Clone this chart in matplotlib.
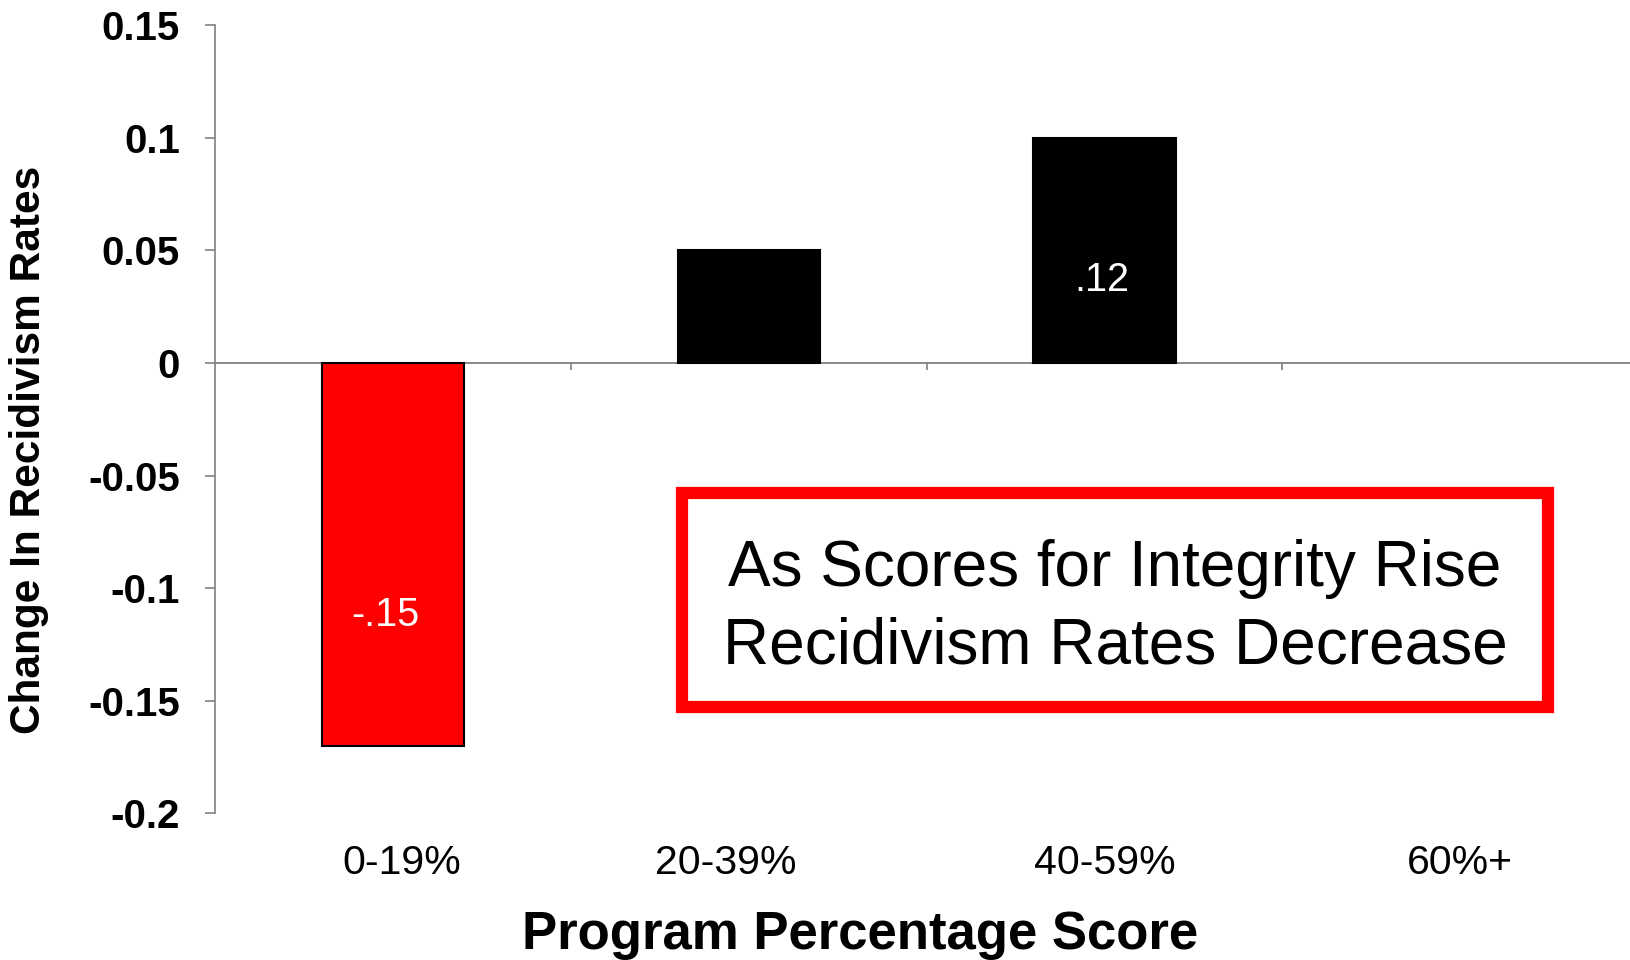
import matplotlib
matplotlib.use("Agg")
import matplotlib.pyplot as plt
from matplotlib.patches import Rectangle
import matplotlib.transforms as mtransforms

plt.rcParams['font.family'] = ['Liberation Sans', 'DejaVu Sans']

# ---- data ----
categories = ["0-19%", "20-39%", "40-59%", "60%+"]
values = [-0.17, 0.05, 0.10, 0.0]
bar_colors = ["#FF0000", "#000000", "#000000", "#000000"]
bar_labels = ["-.15", "", ".12", ""]
label_y = [-0.112, None, 0.037, None]
y_ticks = [-0.2, -0.15, -0.1, -0.05, 0, 0.05, 0.1, 0.15]
y_ticklabels = ["-0.2", "-0.15", "-0.1", "-0.05", "0", "0.05", "0.1", "0.15"]
x_title = "Program Percentage Score"
y_title = "Change In Recidivism Rates"
note = "As Scores for Integrity Rise\nRecidivism Rates Decrease"

# small horizontal nudges (pixels) of text, as placed in the original slide
cat_label_dx = [9, -23, 0, 0]
bar_label_dx = [-8, 0, -3, 0]

W, H = 1631, 960
fig = plt.figure(figsize=(W / 100, H / 100), dpi=100)
left, right = 215.3 / W, 1638 / W
top, bottom = 1 - 25 / H, 1 - 813.4 / H
ax = fig.add_axes([left, bottom, right - left, top - bottom])

xs = list(range(len(categories)))
bars_idx = [i for i, v in enumerate(values) if v != 0]
ax.bar([xs[i] for i in bars_idx], [values[i] for i in bars_idx], width=0.4,
       color=[bar_colors[i] for i in bars_idx], edgecolor="black", linewidth=1.5, zorder=3)

ax.set_xlim(-0.5, len(categories) - 0.5)
ax.set_ylim(-0.2, 0.15)

gray = "#808080"
for s in ["top", "right"]:
    ax.spines[s].set_visible(False)
ax.spines["bottom"].set_position(("data", 0))
ax.spines["bottom"].set_color(gray)
ax.spines["bottom"].set_linewidth(1.3)
ax.spines["left"].set_color(gray)
ax.spines["left"].set_linewidth(1.2)

ax.set_yticks(y_ticks)
ax.set_yticklabels(y_ticklabels, fontsize=29, fontweight="bold")
ax.tick_params(axis="y", direction="out", length=7.5, width=1.2, color=gray, pad=18)

ax.set_xticks([x + 0.5 for x in xs[:-1]])
ax.set_xticklabels([])
ax.tick_params(axis="x", direction="out", length=5, width=1.2, color=gray)

# category labels below the plot
trans = mtransforms.blended_transform_factory(ax.transData, fig.transFigure)
for x, c, dx in zip(xs, categories, cat_label_dx):
    t = trans + mtransforms.ScaledTranslation(dx / 100, 0, fig.dpi_scale_trans)
    ax.text(x, 1 - 874 / H, c, transform=t, ha="center", va="baseline",
            fontsize=29.5, color="black", clip_on=False)

# value labels inside bars
for x, lab, ly, dx in zip(xs, bar_labels, label_y, bar_label_dx):
    if lab and ly is not None:
        t = ax.transData + mtransforms.ScaledTranslation(dx / 100, 0, fig.dpi_scale_trans)
        ax.text(x, ly, lab, transform=t, ha="center", va="center", color="white",
                fontsize=28.5, zorder=4)

fig.text(860 / W, 1 - 949 / H, x_title, ha="center", va="baseline",
         fontsize=38, fontweight="bold")
fig.text(29 / W, 0.531, y_title, ha="center", va="center", rotation=90,
         fontsize=30.5, fontweight="bold")

# annotation box
x0, x1 = 682 / W, 1548 / W
y0, y1 = 1 - 707 / H, 1 - 493 / H
fig.patches.append(Rectangle((x0, y0), x1 - x0, y1 - y0, transform=fig.transFigure,
                             fill=True, facecolor="white", edgecolor="#FF0000",
                             linewidth=8.8, zorder=5))
fig.text(1115 / W, 0.367, note, ha="center", va="center", fontsize=46,
         linespacing=1.37, zorder=6)

fig.savefig("out.png", dpi=100)
